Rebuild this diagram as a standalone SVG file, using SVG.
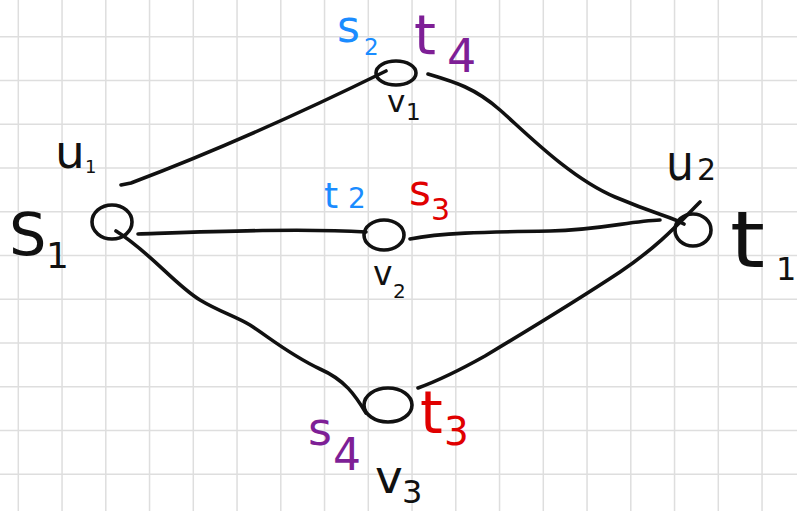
<svg xmlns="http://www.w3.org/2000/svg" width="797" height="511" viewBox="0 0 797 511">
<defs>
<style>
.grid{stroke:#dedede;stroke-width:1.5;fill:none}
.edge{stroke:#111;stroke-width:3.6;fill:none;stroke-linecap:round;stroke-linejoin:round}
.node{stroke:#111;stroke-width:3.6;fill:none}
.lbl{font-family:"DejaVu Sans","Liberation Sans",sans-serif}
.blk{fill:#111}
.blue{fill:#1a8cff}
.red{fill:#e00000}
.purple{fill:#7e1f96}
</style>
</defs>
<rect width="797" height="511" fill="#ffffff"/>
<path class="grid" d="M18.3,0V511M62.05,0V511M105.8,0V511M149.55,0V511M193.3,0V511M237.05,0V511M280.8,0V511M324.55,0V511M368.3,0V511M412.05,0V511M455.8,0V511M499.55,0V511M543.3,0V511M587.05,0V511M630.8,0V511M674.55,0V511M718.3,0V511M762.05,0V511M0,36.7H797M0,80.45H797M0,124.2H797M0,167.95H797M0,211.7H797M0,255.45H797M0,299.2H797M0,342.95H797M0,386.7H797M0,430.45H797M0,474.2H797"/>
<g id="connectors">
<path class="edge" d="M121,185 L131,183 Q250,138 386,71"/>
<path class="edge" d="M138,234 C200,232 300,228 366,232"/>
<path class="edge" d="M428,74 C455,82 475,88 500,110 C525,132 570,178 615,197 C660,216 670,216 684,224"/>
<path class="edge" d="M410,239 C440,233 480,232 550,231 C600,230 630,221 660,220"/>
<path class="edge" d="M700,202 C680,222 660,245 620,272 C570,305 520,335 485,356 C460,370 440,380 418,388"/>
<path class="edge" d="M116,231 C150,252 175,285 200,300 C220,312 235,316 250,325 C270,338 290,355 320,369 C345,380 355,395 366,413"/>
</g>
<g id="u1">
<ellipse class="node" cx="112" cy="222" rx="20" ry="17"/>
<text class="lbl blk"><tspan x="55" y="168" font-size="47">u</tspan><tspan x="85" y="173" font-size="18">1</tspan></text>
<text class="lbl blk"><tspan x="9" y="255" font-size="59">S</tspan><tspan x="46" y="268" font-size="36">1</tspan></text>
</g>
<g id="v1">
<ellipse class="node" cx="396" cy="73" rx="20" ry="12"/>
<text class="lbl blue"><tspan x="337" y="42" font-size="44">s</tspan><tspan x="364" y="55" font-size="23">2</tspan></text>
<text class="lbl purple"><tspan x="414" y="54" font-size="56">t</tspan><tspan x="447" y="72" font-size="46">4</tspan></text>
<text class="lbl blk"><tspan x="387" y="112" font-size="31">v</tspan><tspan x="406" y="120" font-size="23">1</tspan></text>
</g>
<g id="v2">
<ellipse class="node" cx="384" cy="235" rx="20" ry="15"/>
<text class="lbl blue"><tspan x="324" y="208" font-size="36">t</tspan><tspan x="348" y="208" font-size="28">2</tspan></text>
<text class="lbl red"><tspan x="409" y="205" font-size="42">s</tspan><tspan x="431" y="220" font-size="30">3</tspan></text>
<text class="lbl blk"><tspan x="373" y="285" font-size="33">v</tspan><tspan x="393" y="298" font-size="20">2</tspan></text>
</g>
<g id="u2">
<ellipse class="node" cx="693" cy="230" rx="18" ry="16"/>
<text class="lbl blk"><tspan x="666" y="180" font-size="50" textLength="28" lengthAdjust="spacingAndGlyphs">u</tspan><tspan x="697" y="180" font-size="30">2</tspan></text>
<text class="lbl blk"><tspan x="730" y="267" font-size="78" textLength="35" lengthAdjust="spacingAndGlyphs">t</tspan><tspan x="776" y="280" font-size="32">1</tspan></text>
</g>
<g id="v3">
<ellipse class="node" cx="388" cy="405" rx="24" ry="17"/>
<text class="lbl purple"><tspan x="308" y="445" font-size="46">s</tspan><tspan x="333" y="470" font-size="44">4</tspan></text>
<text class="lbl red"><tspan x="420" y="433" font-size="58">t</tspan><tspan x="444" y="445" font-size="39">3</tspan></text>
<text class="lbl blk"><tspan x="375" y="493" font-size="47">v</tspan><tspan x="402" y="503" font-size="32">3</tspan></text>
</g>
</svg>
